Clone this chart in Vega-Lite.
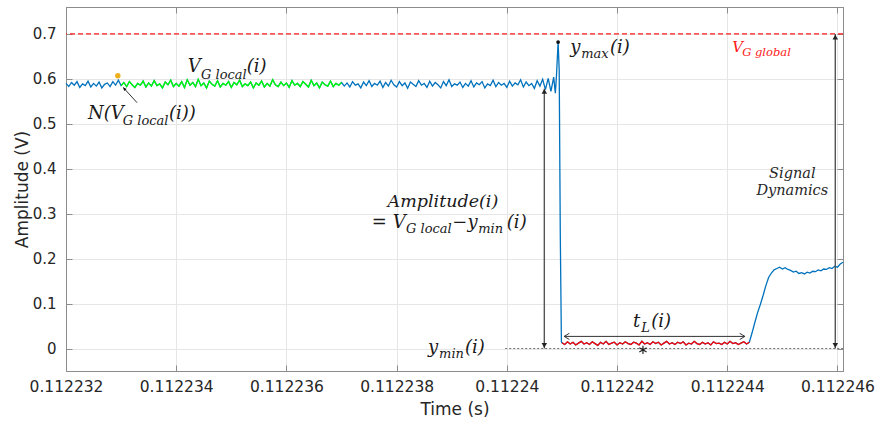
{
  "$schema": "https://vega.github.io/schema/vega-lite/v6.json",
  "width": 777,
  "height": 364,
  "autosize": "none",
  "padding": {"left": 66, "top": 7, "right": 32, "bottom": 50},
  "background": "white",
  "config": {
    "view": {"stroke": "#8c8c8c", "strokeWidth": 1},
    "axis": {
      "labelFont": "DejaVu Sans", "labelFontSize": 15.5, "labelColor": "#262626", "labelFlush": false,
      "titleFont": "DejaVu Sans", "titleFontSize": 17, "titleFontWeight": "normal", "titleColor": "#262626",
      "domainColor": "#8c8c8c", "tickColor": "#8c8c8c", "tickSize": -6,
      "gridColor": "#e6e6e6", "gridWidth": 1
    }
  },
  "datasets": {
    "sig": [
      {"t":0.112232,"v":0.590,"s":"b"},{"t":0.11223205,"v":0.583,"s":"b"},{"t":0.1122321,"v":0.592,"s":"b"},{"t":0.11223215,"v":0.586,"s":"b"},{"t":0.1122322,"v":0.594,"s":"b"},
      {"t":0.11223225,"v":0.581,"s":"b"},{"t":0.1122323,"v":0.589,"s":"b"},{"t":0.11223235,"v":0.585,"s":"b"},{"t":0.1122324,"v":0.595,"s":"b"},{"t":0.11223245,"v":0.582,"s":"b"},
      {"t":0.1122325,"v":0.590,"s":"b"},{"t":0.11223255,"v":0.584,"s":"b"},{"t":0.1122326,"v":0.593,"s":"b"},{"t":0.11223265,"v":0.580,"s":"b"},{"t":0.1122327,"v":0.588,"s":"b"},
      {"t":0.11223275,"v":0.591,"s":"b"},{"t":0.1122328,"v":0.583,"s":"b"},{"t":0.11223285,"v":0.594,"s":"b"},{"t":0.1122329,"v":0.586,"s":"b"},{"t":0.11223295,"v":0.597,"s":"b"},
      {"t":0.112233,"v":0.585,"s":"g"},{"t":0.11223305,"v":0.592,"s":"g"},{"t":0.1122331,"v":0.583,"s":"g"},{"t":0.11223315,"v":0.594,"s":"g"},{"t":0.1122332,"v":0.587,"s":"g"},
      {"t":0.11223325,"v":0.581,"s":"g"},{"t":0.1122333,"v":0.590,"s":"g"},{"t":0.11223335,"v":0.586,"s":"g"},{"t":0.1122334,"v":0.595,"s":"g"},{"t":0.11223345,"v":0.582,"s":"g"},
      {"t":0.1122335,"v":0.591,"s":"g"},{"t":0.11223355,"v":0.584,"s":"g"},{"t":0.1122336,"v":0.596,"s":"g"},{"t":0.11223365,"v":0.585,"s":"g"},{"t":0.1122337,"v":0.589,"s":"g"},
      {"t":0.11223375,"v":0.580,"s":"g"},{"t":0.1122338,"v":0.593,"s":"g"},{"t":0.11223385,"v":0.587,"s":"g"},{"t":0.1122339,"v":0.597,"s":"g"},{"t":0.11223395,"v":0.583,"s":"g"},
      {"t":0.112234,"v":0.590,"s":"g"},{"t":0.11223405,"v":0.584,"s":"g"},{"t":0.1122341,"v":0.594,"s":"g"},{"t":0.11223415,"v":0.581,"s":"g"},{"t":0.1122342,"v":0.598,"s":"g"},
      {"t":0.11223425,"v":0.586,"s":"g"},{"t":0.1122343,"v":0.592,"s":"g"},{"t":0.11223435,"v":0.583,"s":"g"},{"t":0.1122344,"v":0.599,"s":"g"},{"t":0.11223445,"v":0.585,"s":"g"},
      {"t":0.1122345,"v":0.591,"s":"g"},{"t":0.11223455,"v":0.580,"s":"g"},{"t":0.1122346,"v":0.595,"s":"g"},{"t":0.11223465,"v":0.588,"s":"g"},{"t":0.1122347,"v":0.584,"s":"g"},
      {"t":0.11223475,"v":0.596,"s":"g"},{"t":0.1122348,"v":0.582,"s":"g"},{"t":0.11223485,"v":0.590,"s":"g"},{"t":0.1122349,"v":0.586,"s":"g"},{"t":0.11223495,"v":0.594,"s":"g"},
      {"t":0.112235,"v":0.581,"s":"g"},{"t":0.11223505,"v":0.592,"s":"g"},{"t":0.1122351,"v":0.587,"s":"g"},{"t":0.11223515,"v":0.597,"s":"g"},{"t":0.1122352,"v":0.583,"s":"g"},
      {"t":0.11223525,"v":0.589,"s":"g"},{"t":0.1122353,"v":0.585,"s":"g"},{"t":0.11223535,"v":0.593,"s":"g"},{"t":0.1122354,"v":0.580,"s":"g"},{"t":0.11223545,"v":0.591,"s":"g"},
      {"t":0.1122355,"v":0.586,"s":"g"},{"t":0.11223555,"v":0.595,"s":"g"},{"t":0.1122356,"v":0.582,"s":"g"},{"t":0.11223565,"v":0.590,"s":"g"},{"t":0.1122357,"v":0.584,"s":"g"},
      {"t":0.11223575,"v":0.598,"s":"g"},{"t":0.1122358,"v":0.587,"s":"g"},{"t":0.11223585,"v":0.583,"s":"g"},{"t":0.1122359,"v":0.593,"s":"g"},{"t":0.11223595,"v":0.585,"s":"g"},
      {"t":0.112236,"v":0.591,"s":"g"},{"t":0.11223605,"v":0.581,"s":"g"},{"t":0.1122361,"v":0.596,"s":"g"},{"t":0.11223615,"v":0.586,"s":"g"},{"t":0.1122362,"v":0.590,"s":"g"},
      {"t":0.11223625,"v":0.583,"s":"g"},{"t":0.1122363,"v":0.594,"s":"g"},{"t":0.11223635,"v":0.588,"s":"g"},{"t":0.1122364,"v":0.582,"s":"g"},{"t":0.11223645,"v":0.597,"s":"g"},
      {"t":0.1122365,"v":0.585,"s":"g"},{"t":0.11223655,"v":0.591,"s":"g"},{"t":0.1122366,"v":0.580,"s":"g"},{"t":0.11223665,"v":0.593,"s":"g"},{"t":0.1122367,"v":0.587,"s":"g"},
      {"t":0.11223675,"v":0.584,"s":"g"},{"t":0.1122368,"v":0.595,"s":"g"},{"t":0.11223685,"v":0.583,"s":"g"},{"t":0.1122369,"v":0.590,"s":"g"},{"t":0.11223695,"v":0.586,"s":"g"},
      {"t":0.112237,"v":0.592,"s":"g"},
      {"t":0.11223705,"v":0.584,"s":"b"},{"t":0.1122371,"v":0.591,"s":"b"},{"t":0.11223715,"v":0.582,"s":"b"},{"t":0.1122372,"v":0.594,"s":"b"},{"t":0.11223725,"v":0.586,"s":"b"},
      {"t":0.1122373,"v":0.589,"s":"b"},{"t":0.11223735,"v":0.580,"s":"b"},{"t":0.1122374,"v":0.593,"s":"b"},{"t":0.11223745,"v":0.585,"s":"b"},
      {"t":0.1122375,"v":0.596,"s":"b"},{"t":0.11223755,"v":0.583,"s":"b"},{"t":0.1122376,"v":0.590,"s":"b"},{"t":0.11223765,"v":0.586,"s":"b"},{"t":0.1122377,"v":0.595,"s":"b"},
      {"t":0.11223775,"v":0.581,"s":"b"},{"t":0.1122378,"v":0.592,"s":"b"},{"t":0.11223785,"v":0.584,"s":"b"},{"t":0.1122379,"v":0.597,"s":"b"},{"t":0.11223795,"v":0.587,"s":"b"},
      {"t":0.112238,"v":0.582,"s":"b"},{"t":0.11223805,"v":0.594,"s":"b"},{"t":0.1122381,"v":0.585,"s":"b"},{"t":0.11223815,"v":0.591,"s":"b"},{"t":0.1122382,"v":0.579,"s":"b"},
      {"t":0.11223825,"v":0.593,"s":"b"},{"t":0.1122383,"v":0.588,"s":"b"},{"t":0.11223835,"v":0.583,"s":"b"},{"t":0.1122384,"v":0.596,"s":"b"},{"t":0.11223845,"v":0.586,"s":"b"},
      {"t":0.1122385,"v":0.590,"s":"b"},{"t":0.11223855,"v":0.581,"s":"b"},{"t":0.1122386,"v":0.595,"s":"b"},{"t":0.11223865,"v":0.584,"s":"b"},{"t":0.1122387,"v":0.592,"s":"b"},
      {"t":0.11223875,"v":0.587,"s":"b"},{"t":0.1122388,"v":0.580,"s":"b"},{"t":0.11223885,"v":0.594,"s":"b"},{"t":0.1122389,"v":0.585,"s":"b"},{"t":0.11223895,"v":0.598,"s":"b"},
      {"t":0.112239,"v":0.583,"s":"b"},{"t":0.11223905,"v":0.589,"s":"b"},{"t":0.1122391,"v":0.586,"s":"b"},{"t":0.11223915,"v":0.593,"s":"b"},{"t":0.1122392,"v":0.581,"s":"b"},
      {"t":0.11223925,"v":0.590,"s":"b"},{"t":0.1122393,"v":0.584,"s":"b"},{"t":0.11223935,"v":0.596,"s":"b"},{"t":0.1122394,"v":0.582,"s":"b"},{"t":0.11223945,"v":0.591,"s":"b"},
      {"t":0.1122395,"v":0.587,"s":"b"},{"t":0.11223955,"v":0.594,"s":"b"},{"t":0.1122396,"v":0.580,"s":"b"},{"t":0.11223965,"v":0.589,"s":"b"},{"t":0.1122397,"v":0.585,"s":"b"},
      {"t":0.11223975,"v":0.597,"s":"b"},{"t":0.1122398,"v":0.583,"s":"b"},{"t":0.11223985,"v":0.592,"s":"b"},{"t":0.1122399,"v":0.586,"s":"b"},{"t":0.11223995,"v":0.590,"s":"b"},
      {"t":0.11224,"v":0.581,"s":"b"},{"t":0.11224005,"v":0.595,"s":"b"},{"t":0.1122401,"v":0.584,"s":"b"},{"t":0.11224015,"v":0.591,"s":"b"},{"t":0.1122402,"v":0.587,"s":"b"},
      {"t":0.11224025,"v":0.598,"s":"b"},{"t":0.1122403,"v":0.582,"s":"b"},{"t":0.11224035,"v":0.593,"s":"b"},{"t":0.1122404,"v":0.585,"s":"b"},{"t":0.11224045,"v":0.590,"s":"b"},
      {"t":0.1122405,"v":0.579,"s":"b"},{"t":0.11224055,"v":0.596,"s":"b"},{"t":0.1122406,"v":0.584,"s":"b"},{"t":0.11224065,"v":0.599,"s":"b"},{"t":0.1122407,"v":0.576,"s":"b"},
      {"t":0.11224075,"v":0.601,"s":"b"},{"t":0.1122408,"v":0.572,"s":"b"},{"t":0.11224085,"v":0.604,"s":"b"},
      {"t":0.11224088,"v":0.568,"s":"b"},{"t":0.1122409,"v":0.606,"s":"b"},{"t":0.11224093,"v":0.682,"s":"b"},{"t":0.11224095,"v":0.620,"s":"b"},{"t":0.11224097,"v":0.250,"s":"b"},{"t":0.11224099,"v":0.015,"s":"b"},
      {"t":0.112241,"v":0.013,"s":"r"},{"t":0.11224105,"v":0.009,"s":"r"},{"t":0.1122411,"v":0.015,"s":"r"},{"t":0.11224115,"v":0.010,"s":"r"},{"t":0.1122412,"v":0.014,"s":"r"},
      {"t":0.11224125,"v":0.008,"s":"r"},{"t":0.1122413,"v":0.012,"s":"r"},{"t":0.11224135,"v":0.016,"s":"r"},{"t":0.1122414,"v":0.010,"s":"r"},{"t":0.11224145,"v":0.013,"s":"r"},
      {"t":0.1122415,"v":0.009,"s":"r"},{"t":0.11224155,"v":0.015,"s":"r"},{"t":0.1122416,"v":0.011,"s":"r"},{"t":0.11224165,"v":0.007,"s":"r"},{"t":0.1122417,"v":0.014,"s":"r"},
      {"t":0.11224175,"v":0.010,"s":"r"},{"t":0.1122418,"v":0.016,"s":"r"},{"t":0.11224185,"v":0.009,"s":"r"},{"t":0.1122419,"v":0.012,"s":"r"},{"t":0.11224195,"v":0.014,"s":"r"},
      {"t":0.112242,"v":0.008,"s":"r"},{"t":0.11224205,"v":0.013,"s":"r"},{"t":0.1122421,"v":0.010,"s":"r"},{"t":0.11224215,"v":0.015,"s":"r"},{"t":0.1122422,"v":0.011,"s":"r"},
      {"t":0.11224225,"v":0.009,"s":"r"},{"t":0.1122423,"v":0.014,"s":"r"},{"t":0.11224235,"v":0.012,"s":"r"},{"t":0.1122424,"v":0.008,"s":"r"},{"t":0.11224245,"v":0.016,"s":"r"},
      {"t":0.1122425,"v":0.010,"s":"r"},{"t":0.11224255,"v":0.013,"s":"r"},{"t":0.1122426,"v":0.009,"s":"r"},{"t":0.11224265,"v":0.015,"s":"r"},{"t":0.1122427,"v":0.011,"s":"r"},
      {"t":0.11224275,"v":0.014,"s":"r"},{"t":0.1122428,"v":0.008,"s":"r"},{"t":0.11224285,"v":0.012,"s":"r"},{"t":0.1122429,"v":0.016,"s":"r"},{"t":0.11224295,"v":0.010,"s":"r"},
      {"t":0.112243,"v":0.013,"s":"r"},{"t":0.11224305,"v":0.009,"s":"r"},{"t":0.1122431,"v":0.014,"s":"r"},{"t":0.11224315,"v":0.011,"s":"r"},{"t":0.1122432,"v":0.015,"s":"r"},
      {"t":0.11224325,"v":0.008,"s":"r"},{"t":0.1122433,"v":0.012,"s":"r"},{"t":0.11224335,"v":0.010,"s":"r"},{"t":0.1122434,"v":0.016,"s":"r"},{"t":0.11224345,"v":0.011,"s":"r"},
      {"t":0.1122435,"v":0.009,"s":"r"},{"t":0.11224355,"v":0.014,"s":"r"},{"t":0.1122436,"v":0.010,"s":"r"},{"t":0.11224365,"v":0.013,"s":"r"},{"t":0.1122437,"v":0.008,"s":"r"},
      {"t":0.11224375,"v":0.015,"s":"r"},{"t":0.1122438,"v":0.011,"s":"r"},{"t":0.11224385,"v":0.012,"s":"r"},{"t":0.1122439,"v":0.009,"s":"r"},{"t":0.11224395,"v":0.014,"s":"r"},
      {"t":0.112244,"v":0.010,"s":"r"},{"t":0.11224405,"v":0.016,"s":"r"},{"t":0.1122441,"v":0.011,"s":"r"},{"t":0.11224415,"v":0.013,"s":"r"},{"t":0.1122442,"v":0.009,"s":"r"},
      {"t":0.11224425,"v":0.012,"s":"r"},{"t":0.1122443,"v":0.015,"s":"r"},{"t":0.11224435,"v":0.010,"s":"r"},{"t":0.1122444,"v":0.014,"s":"r"},
      {"t":0.11224445,"v":0.035,"s":"b"},{"t":0.1122445,"v":0.058,"s":"b"},{"t":0.11224455,"v":0.080,"s":"b"},{"t":0.1122446,"v":0.098,"s":"b"},{"t":0.11224465,"v":0.118,"s":"b"},
      {"t":0.1122447,"v":0.140,"s":"b"},{"t":0.11224475,"v":0.158,"s":"b"},{"t":0.1122448,"v":0.168,"s":"b"},{"t":0.11224485,"v":0.175,"s":"b"},{"t":0.1122449,"v":0.178,"s":"b"},
      {"t":0.11224495,"v":0.181,"s":"b"},{"t":0.112245,"v":0.177,"s":"b"},{"t":0.11224505,"v":0.180,"s":"b"},{"t":0.1122451,"v":0.176,"s":"b"},{"t":0.11224515,"v":0.174,"s":"b"},
      {"t":0.1122452,"v":0.170,"s":"b"},{"t":0.11224525,"v":0.172,"s":"b"},{"t":0.1122453,"v":0.167,"s":"b"},{"t":0.11224535,"v":0.169,"s":"b"},{"t":0.1122454,"v":0.166,"s":"b"},
      {"t":0.11224545,"v":0.170,"s":"b"},{"t":0.1122455,"v":0.168,"s":"b"},{"t":0.11224555,"v":0.172,"s":"b"},{"t":0.1122456,"v":0.171,"s":"b"},{"t":0.11224565,"v":0.175,"s":"b"},
      {"t":0.1122457,"v":0.173,"s":"b"},{"t":0.11224575,"v":0.177,"s":"b"},{"t":0.1122458,"v":0.176,"s":"b"},{"t":0.11224585,"v":0.180,"s":"b"},{"t":0.1122459,"v":0.178,"s":"b"},
      {"t":0.11224595,"v":0.183,"s":"b"},{"t":0.112246,"v":0.181,"s":"b"},{"t":0.11224605,"v":0.188,"s":"b"},{"t":0.1122461,"v":0.192,"s":"b"}
    ],
    "tbig": [
      {"t":0.11223421,"v":0.615,"label":"V"},
      {"t":0.11223528,"v":0.615,"label":"(i)"},
      {"t":0.1122324,"v":0.511,"label":"N(V"},
      {"t":0.11223387,"v":0.511,"label":"(i))"},
      {"t":0.11224115,"v":0.658,"label":"y"},
      {"t":0.11224187,"v":0.658,"label":"(i)"},
      {"t":0.11223755,"v":0.268,"label":"= V"},
      {"t":0.11223901,"v":0.268,"label":"−y"},
      {"t":0.112240,"v":0.268,"label":"(i)"},
      {"t":0.11223857,"v":-0.01,"label":"y"},
      {"t":0.11223924,"v":-0.01,"label":"(i)"},
      {"t":0.11224229,"v":0.048,"label":"t"},
      {"t":0.11224262,"v":0.048,"label":"(i)"}
    ],
    "tsub": [
      {"t":0.11223445,"v":0.6,"label":"G local"},
      {"t":0.11223303,"v":0.497,"label":"G local"},
      {"t":0.11224135,"v":0.646,"label":"max"},
      {"t":0.11223817,"v":0.257,"label":"G local"},
      {"t":0.11223948,"v":0.257,"label":"min"},
      {"t":0.11223877,"v":-0.021,"label":"min"},
      {"t":0.11224244,"v":0.037,"label":"L"}
    ]
  },
  "resolve": {"axis": {"x": "independent", "y": "independent"}},
  "layer": [
    {
      "layer": [
        {
          "data": {"name": "sig"},
          "mark": {"type": "line", "color": "#0072BD", "strokeWidth": 1.3},
          "encoding": {
            "x": {"field": "t", "type": "quantitative",
                  "scale": {"domain": [0.112232, 0.1122461], "nice": false, "zero": false},
                  "axis": {"title": "Time (s)", "values": [0.112232, 0.112234, 0.112236, 0.112238, 0.11224, 0.112242, 0.112244, 0.112246],
                           "format": ".6~f", "labelPadding": 14, "titlePadding": 7, "grid": true}},
            "y": {"field": "v", "type": "quantitative",
                  "scale": {"domain": [-0.05, 0.76], "nice": false, "zero": false},
                  "axis": {"title": "Amplitude (V)", "values": [0, 0.1, 0.2, 0.3, 0.4, 0.5, 0.6, 0.7],
                           "format": "~g", "labelPadding": 16, "titlePadding": 1, "labelFontSize": 15, "grid": true}}
          }
        },
        {
          "data": {"name": "sig"},
          "transform": [{"filter": "datum.s === 'g'"}],
          "mark": {"type": "line", "color": "#00FF00", "strokeWidth": 1.3},
          "encoding": {"x": {"field": "t", "type": "quantitative"}, "y": {"field": "v", "type": "quantitative"}}
        },
        {
          "data": {"name": "sig"},
          "transform": [{"filter": "datum.s === 'r'"}],
          "mark": {"type": "line", "color": "#FF0000", "strokeWidth": 1.3},
          "encoding": {"x": {"field": "t", "type": "quantitative"}, "y": {"field": "v", "type": "quantitative"}}
        },
        {
          "data": {"values": [{"v": 0.7}]},
          "mark": {"type": "rule", "color": "#FF1A1A", "strokeWidth": 1.3, "strokeDash": [5, 3]},
          "encoding": {"y": {"field": "v", "type": "quantitative"}}
        },
        {
          "data": {"values": [{"t": 0.11223997, "t2": 0.1122461, "v": 0}]},
          "mark": {"type": "rule", "color": "#707070", "strokeWidth": 1, "strokeDash": [2, 2]},
          "encoding": {"x": {"field": "t", "type": "quantitative"}, "x2": {"field": "t2"}, "y": {"field": "v", "type": "quantitative"}}
        },
        {
          "data": {"values": [{"t": 0.11224068, "v": 0.578, "v2": 0.0}, {"t": 0.11224596, "v": 0.7, "v2": 0.0}]},
          "mark": {"type": "rule", "color": "#555555", "strokeWidth": 1.4},
          "encoding": {"x": {"field": "t", "type": "quantitative"}, "y": {"field": "v", "type": "quantitative"}, "y2": {"field": "v2"}}
        },
        {
          "data": {"values": [{"t": 0.11224068, "v": 0.572}, {"t": 0.11224596, "v": 0.693}]},
          "mark": {"type": "point", "shape": "triangle-up", "filled": true, "color": "#222222", "size": 30, "opacity": 1},
          "encoding": {"x": {"field": "t", "type": "quantitative"}, "y": {"field": "v", "type": "quantitative"}}
        },
        {
          "data": {"values": [{"t": 0.11224068, "v": 0.007}, {"t": 0.11224596, "v": 0.007}]},
          "mark": {"type": "point", "shape": "triangle-down", "filled": true, "color": "#222222", "size": 30, "opacity": 1},
          "encoding": {"x": {"field": "t", "type": "quantitative"}, "y": {"field": "v", "type": "quantitative"}}
        },
        {
          "data": {"values": [{"t": 0.11224104, "t2": 0.11224432, "v": 0.027}]},
          "mark": {"type": "rule", "color": "#333333", "strokeWidth": 1},
          "encoding": {"x": {"field": "t", "type": "quantitative"}, "x2": {"field": "t2"}, "y": {"field": "v", "type": "quantitative"}}
        },
        {
          "data": {"values": [{"t": 0.11224104, "v": 0.027}]},
          "mark": {"type": "point", "shape": "M1,-0.6L0,0L1,0.6", "filled": false, "color": "#333333", "strokeWidth": 1, "size": 110, "opacity": 1},
          "encoding": {"x": {"field": "t", "type": "quantitative"}, "y": {"field": "v", "type": "quantitative"}}
        },
        {
          "data": {"values": [{"t": 0.11224432, "v": 0.027}]},
          "mark": {"type": "point", "shape": "M-1,-0.6L0,0L-1,0.6", "filled": false, "color": "#333333", "strokeWidth": 1, "size": 110, "opacity": 1},
          "encoding": {"x": {"field": "t", "type": "quantitative"}, "y": {"field": "v", "type": "quantitative"}}
        },
        {
          "data": {"values": [{"t": 0.11223329, "v": 0.547, "t2": 0.11223306, "v2": 0.578}]},
          "mark": {"type": "rule", "color": "#333333", "strokeWidth": 1},
          "encoding": {"x": {"field": "t", "type": "quantitative"}, "y": {"field": "v", "type": "quantitative"}, "x2": {"field": "t2"}, "y2": {"field": "v2"}}
        },
        {
          "data": {"values": [{"t": 0.11223303, "v": 0.582}]},
          "mark": {"type": "point", "shape": "M0,0L-0.55,1.5L0.55,1.5Z", "filled": true, "color": "#111111", "size": 30, "angle": 319, "opacity": 1},
          "encoding": {"x": {"field": "t", "type": "quantitative"}, "y": {"field": "v", "type": "quantitative"}}
        },
        {
          "data": {"values": [{"t": 0.11223294, "v": 0.607}]},
          "mark": {"type": "point", "filled": true, "color": "#EDB120", "size": 30, "opacity": 1},
          "encoding": {"x": {"field": "t", "type": "quantitative"}, "y": {"field": "v", "type": "quantitative"}}
        },
        {
          "data": {"values": [{"t": 0.11224093, "v": 0.682}]},
          "mark": {"type": "point", "filled": true, "color": "#111111", "size": 14, "opacity": 1},
          "encoding": {"x": {"field": "t", "type": "quantitative"}, "y": {"field": "v", "type": "quantitative"}}
        },
        {
          "data": {"values": [{"t": 0.11224247, "v": -0.003}]},
          "mark": {"type": "point", "shape": "M0,-1L0,1M-0.87,-0.5L0.87,0.5M-0.87,0.5L0.87,-0.5", "filled": false, "color": "#222222", "strokeWidth": 1.2, "size": 70, "opacity": 1},
          "encoding": {"x": {"field": "t", "type": "quantitative"}, "y": {"field": "v", "type": "quantitative"}}
        },
        {
          "data": {"name": "tbig"},
          "mark": {"type": "text", "font": "DejaVu Serif", "fontStyle": "italic", "fontSize": 18, "color": "#1a1a1a", "align": "left", "baseline": "alphabetic"},
          "encoding": {"x": {"field": "t", "type": "quantitative"}, "y": {"field": "v", "type": "quantitative"}, "text": {"field": "label"}}
        },
        {
          "data": {"name": "tsub"},
          "mark": {"type": "text", "font": "DejaVu Serif", "fontStyle": "italic", "fontSize": 13, "color": "#1a1a1a", "align": "left", "baseline": "alphabetic"},
          "encoding": {"x": {"field": "t", "type": "quantitative"}, "y": {"field": "v", "type": "quantitative"}, "text": {"field": "label"}}
        },
        {
          "data": {"values": [{"t": 0.11223884, "v": 0.314, "label": "Amplitude(i)"}]},
          "mark": {"type": "text", "font": "DejaVu Serif", "fontStyle": "italic", "fontSize": 17.5, "color": "#1a1a1a", "align": "center", "baseline": "alphabetic"},
          "encoding": {"x": {"field": "t", "type": "quantitative"}, "y": {"field": "v", "type": "quantitative"}, "text": {"field": "label"}}
        },
        {
          "data": {"values": [{"t": 0.11224409, "v": 0.66, "label": "V"}]},
          "mark": {"type": "text", "font": "DejaVu Serif", "fontStyle": "italic", "fontSize": 15, "color": "#FF1A1A", "align": "left", "baseline": "alphabetic"},
          "encoding": {"x": {"field": "t", "type": "quantitative"}, "y": {"field": "v", "type": "quantitative"}, "text": {"field": "label"}}
        },
        {
          "data": {"values": [{"t": 0.11224427, "v": 0.651, "label": "G global"}]},
          "mark": {"type": "text", "font": "DejaVu Serif", "fontStyle": "italic", "fontSize": 11.5, "color": "#FF1A1A", "align": "left", "baseline": "alphabetic"},
          "encoding": {"x": {"field": "t", "type": "quantitative"}, "y": {"field": "v", "type": "quantitative"}, "text": {"field": "label"}}
        },
        {
          "data": {"values": [{"t": 0.11224518, "v": 0.379, "label": "Signal"}, {"t": 0.11224518, "v": 0.341, "label": "Dynamics"}]},
          "mark": {"type": "text", "font": "DejaVu Serif", "fontStyle": "italic", "fontSize": 14.5, "color": "#262626", "align": "center", "baseline": "alphabetic"},
          "encoding": {"x": {"field": "t", "type": "quantitative"}, "y": {"field": "v", "type": "quantitative"}, "text": {"field": "label"}}
        }
      ]
    },
    {
      "data": {"name": "sig"},
      "mark": {"type": "point", "opacity": 0, "size": 1},
      "encoding": {
        "x": {"field": "t", "type": "quantitative",
              "scale": {"domain": [0.112232, 0.1122461], "nice": false, "zero": false},
              "axis": {"orient": "top", "labels": false, "title": null, "grid": false,
                       "values": [0.112232, 0.112234, 0.112236, 0.112238, 0.11224, 0.112242, 0.112244, 0.112246]}},
        "y": {"field": "v", "type": "quantitative",
              "scale": {"domain": [-0.05, 0.76], "nice": false, "zero": false},
              "axis": {"orient": "right", "labels": false, "title": null, "grid": false,
                       "values": [0, 0.1, 0.2, 0.3, 0.4, 0.5, 0.6, 0.7]}}
      }
    }
  ]
}
